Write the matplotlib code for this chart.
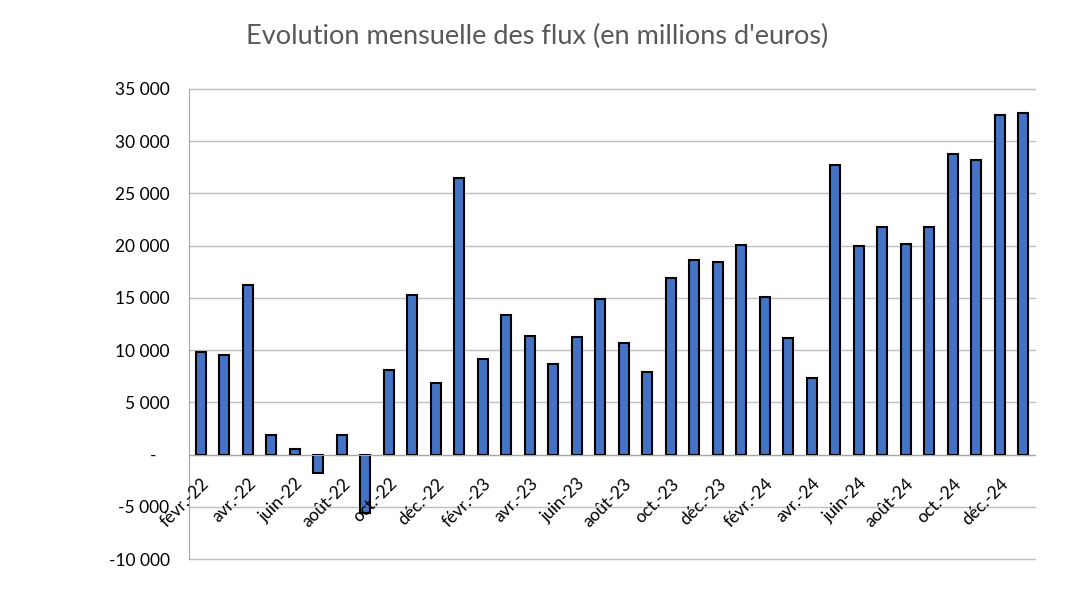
import numpy as np
import matplotlib
matplotlib.use("Agg")
import matplotlib.pyplot as plt
from matplotlib.ticker import FuncFormatter

# Monthly flows, févr.-22 .. janv.-25 (millions of euros)
months = ["févr.-22", "mars-22", "avr.-22", "mai-22", "juin-22", "juil.-22",
          "août-22", "sept.-22", "oct.-22", "nov.-22", "déc.-22", "janv.-23",
          "févr.-23", "mars-23", "avr.-23", "mai-23", "juin-23", "juil.-23",
          "août-23", "sept.-23", "oct.-23", "nov.-23", "déc.-23", "janv.-24",
          "févr.-24", "mars-24", "avr.-24", "mai-24", "juin-24", "juil.-24",
          "août-24", "sept.-24", "oct.-24", "nov.-24", "déc.-24", "janv.-25"]
flux = [9780, 9490, 16250, 1850, 510, -1720,
        1850, -5640, 8060, 15300, 6820, 26510,
        9110, 13380, 11310, 8630, 11210, 14850,
        10640, 7870, 16860, 18670, 18480, 20110,
        15040, 11120, 7300, 27720, 20010, 21830,
        20200, 21830, 28810, 28230, 32540, 32700]
y_ticks = [-10000, -5000, 0, 5000, 10000, 15000, 20000, 25000, 30000, 35000]

plt.rcParams['font.family'] = ['Lato', 'DejaVu Sans']

fig = plt.figure(figsize=(10.75, 5.94), dpi=100)
ax = fig.add_axes([0.1758, 0.0589, 0.787, 0.7913])

# gridlines drawn by hand so the tick labels can sit above the bars
for yv in y_ticks:
    ax.axhline(yv, color="#BFBFBF", linewidth=1.0, zorder=0.5, clip_on=False)

x = np.arange(len(months))
ax.bar(x, flux, width=0.42, color="#4472C4", edgecolor="black", linewidth=1.5, zorder=2)

ax.set_xlim(-0.5, len(months) - 0.5)
ax.set_ylim(-10000, 35000)
ax.set_yticks(y_ticks)


def fmt(v, pos):
    # Excel accounting style: zero shown as a dash
    if v == 0:
        return "-   "
    return f"{int(v):,}".replace(",", " ")


ax.yaxis.set_major_formatter(FuncFormatter(fmt))
ax.set_axisbelow(False)

ax.spines['top'].set_visible(False)
ax.spines['right'].set_visible(False)
ax.spines['left'].set_color("#A6A6A6")
ax.spines['bottom'].set_position(('data', 0))
ax.spines['bottom'].set_color("#A6A6A6")

ax.set_xticks(x[::2])
ax.set_xticklabels(months[::2], rotation=45, ha='right', rotation_mode='anchor')
ax.tick_params(axis='x', length=0, pad=15, labelsize=12.5, colors="#000000")
ax.tick_params(axis='y', length=0, pad=14, labelsize=12.5)

fig.text(0.5, 0.938, "Evolution mensuelle des flux (en millions d'euros)",
         ha='center', va='center', fontsize=19.5, color="#595959")

fig.savefig("out.png", dpi=100)
